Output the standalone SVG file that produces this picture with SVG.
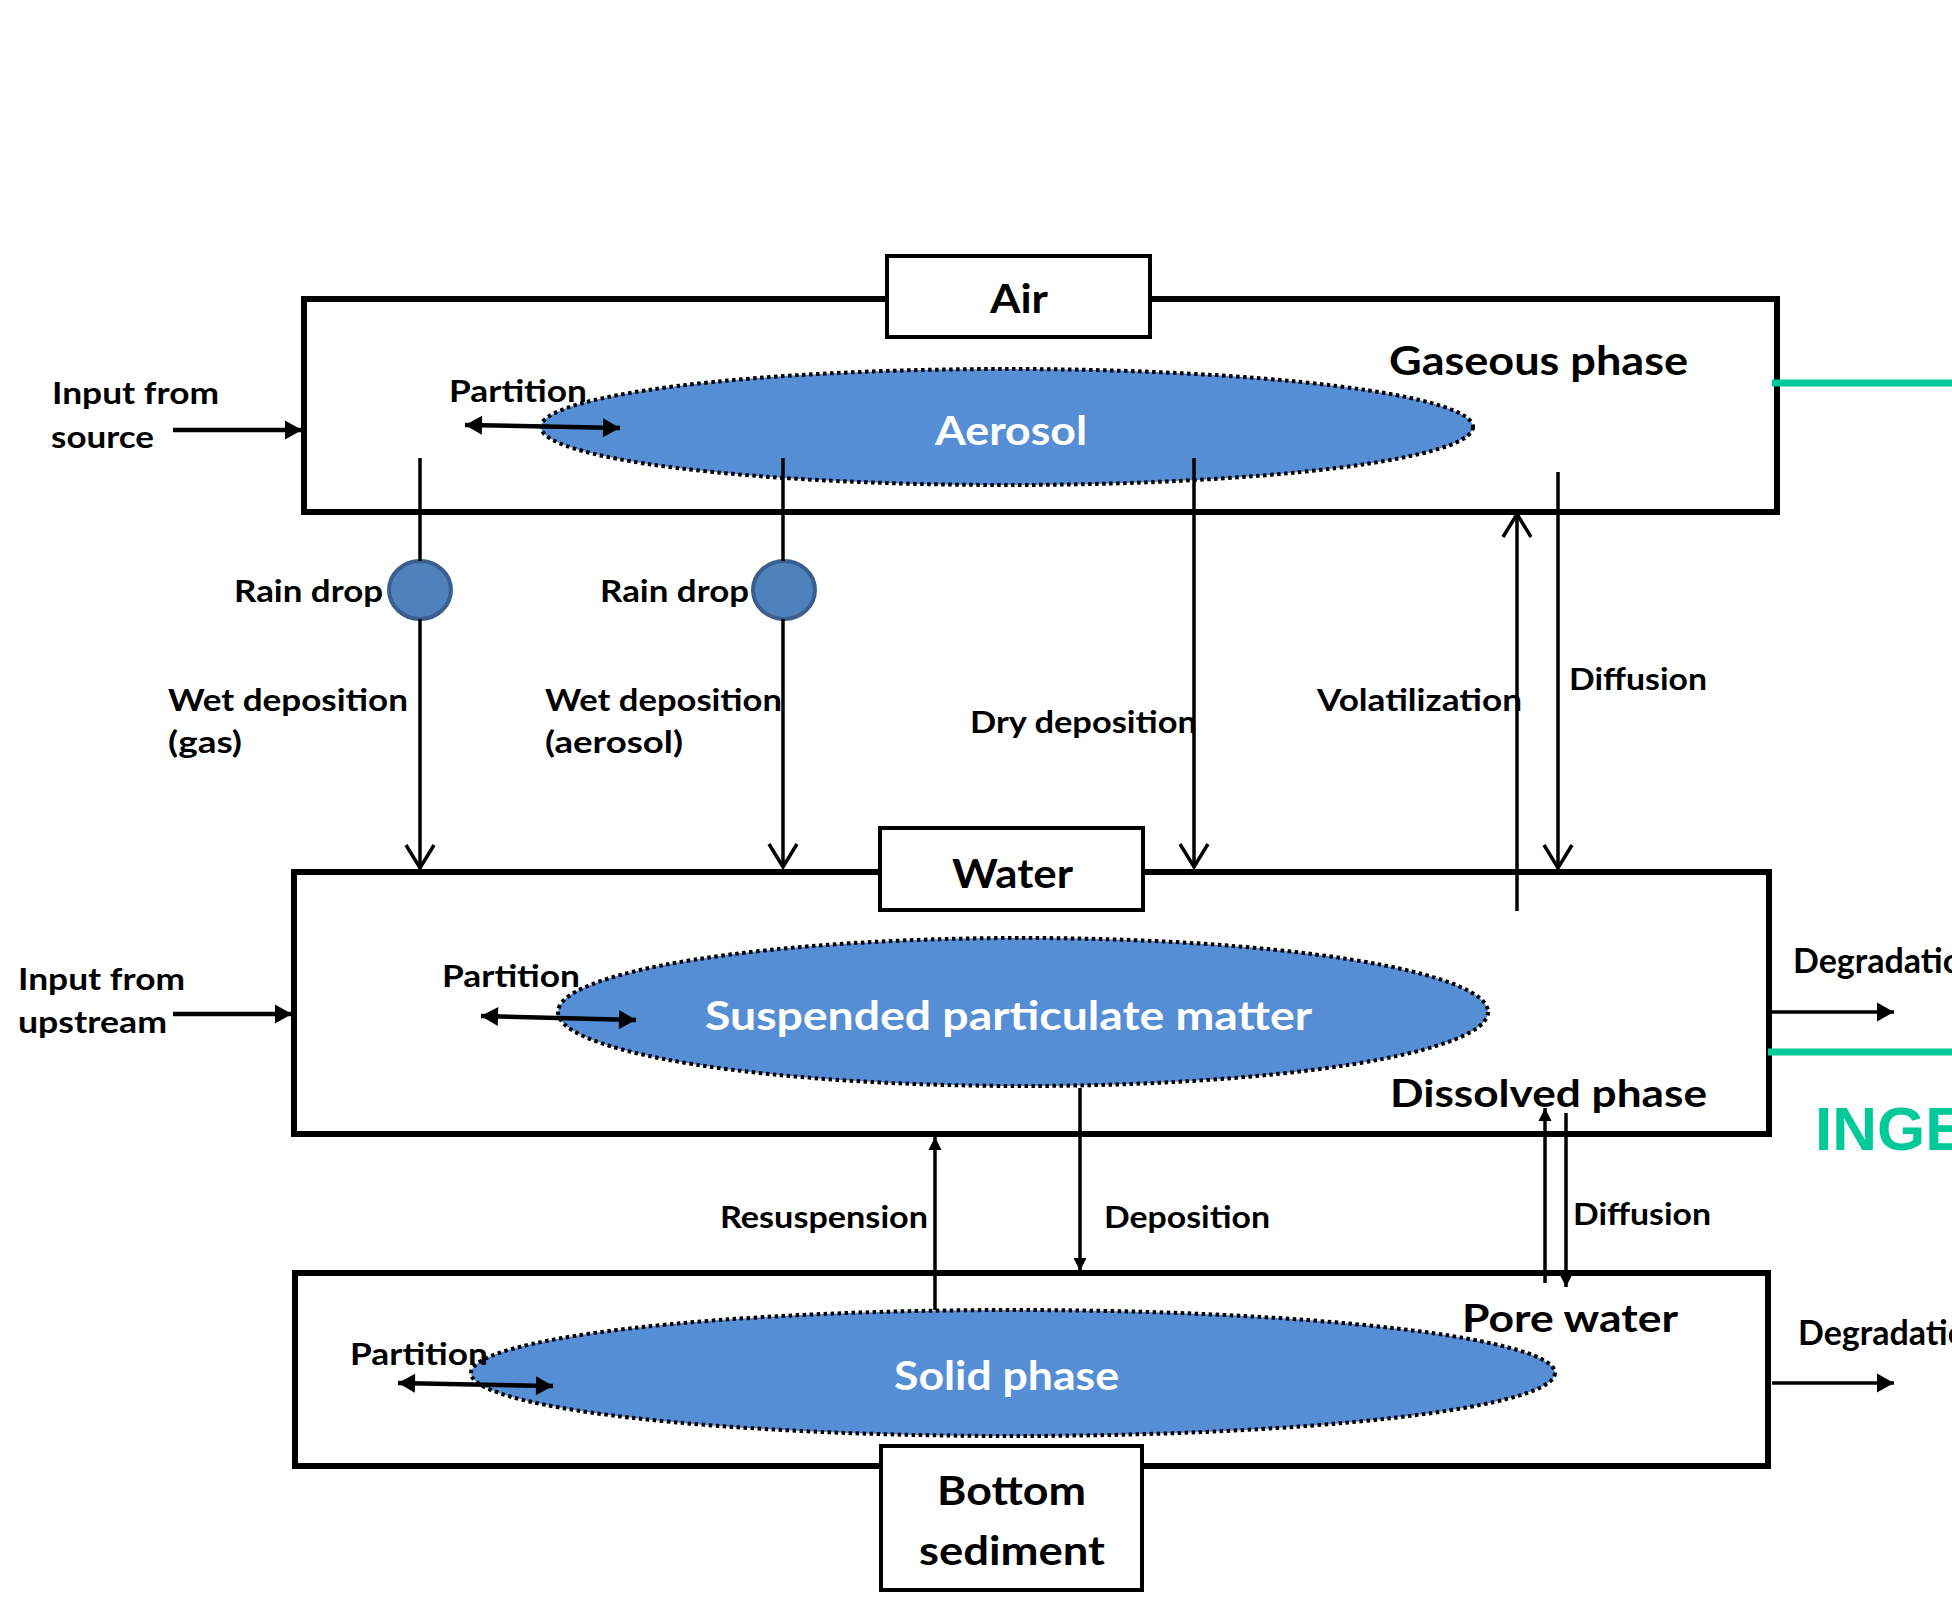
<svg xmlns="http://www.w3.org/2000/svg" width="1952" height="1602" viewBox="0 0 1952 1602">
<style>
.bg{fill:#ffffff}
.box{fill:#ffffff;stroke:#000;stroke-width:6}
.lbox{fill:#ffffff;stroke:#000;stroke-width:4}
.ell{fill:#558ED5;stroke:#000;stroke-width:4;stroke-dasharray:3.5 3.5}
.drop{fill:#4F81BD;stroke:#3A5F8F;stroke-width:4}
.ln{stroke:#000;stroke-width:3.5;fill:none}
.bold{stroke:#000;stroke-width:4.5;fill:none}
.teal{stroke:#00C99A;stroke-width:7}
text{font-family:Lato,"Liberation Sans",sans-serif;font-weight:bold;fill:#000}
.s{font-size:31px}
.dg{font-size:34px}
.m{font-size:38px}
.l{font-size:41px}
.w{fill:#ffffff}
.inge{font-family:"Liberation Sans",Arial,sans-serif;font-size:62px;fill:#00C99A}
</style>
<defs>
<marker id="open" markerUnits="userSpaceOnUse" markerWidth="30" markerHeight="32" refX="24" refY="15" orient="auto" overflow="visible">
<path d="M1,1 L24,15 L1,29" fill="none" stroke="#000" stroke-width="3.5"/>
</marker>
<marker id="fill" markerUnits="userSpaceOnUse" markerWidth="18" markerHeight="20" refX="17" refY="9.5" orient="auto-start-reverse" overflow="visible">
<path d="M0,0 L17,9.5 L0,19 z" fill="#000"/>
</marker>
<marker id="fills" markerUnits="userSpaceOnUse" markerWidth="14" markerHeight="14" refX="13" refY="6.5" orient="auto" overflow="visible">
<path d="M0,0 L13,6.5 L0,13 z" fill="#000"/>
</marker>
</defs>
<rect class="bg" x="0" y="0" width="1952" height="1602"/>

<g id="air">
<rect class="box" x="304" y="299" width="1473" height="213"/>
<rect class="lbox" x="887" y="256" width="263" height="81"/>
<text class="l" x="990" y="313" textLength="58" lengthAdjust="spacingAndGlyphs">Air</text>
<text class="l" x="1389" y="375" textLength="299" lengthAdjust="spacingAndGlyphs">Gaseous  phase</text>
</g>
<g id="aerosol">
<ellipse class="ell" cx="1007" cy="427" rx="466" ry="58"/>
<text class="l w" x="935" y="445" textLength="152" lengthAdjust="spacingAndGlyphs">Aerosol</text>
</g>

<g id="water">
<rect class="box" x="294" y="872" width="1475" height="262"/>
<rect class="lbox" x="880" y="828" width="263" height="82"/>
<text class="l" x="952" y="888" textLength="121" lengthAdjust="spacingAndGlyphs">Water</text>
<text class="m" x="1390" y="1107" textLength="317" lengthAdjust="spacingAndGlyphs">Dissolved phase</text>
</g>
<g id="spm">
<ellipse class="ell" cx="1023" cy="1012" rx="465" ry="74"/>
<text class="l w" x="705" y="1030" textLength="607" lengthAdjust="spacingAndGlyphs">Suspended particulate  matter</text>
</g>

<g id="sediment">
<rect class="box" x="295" y="1273" width="1473" height="193"/>
<text class="m" x="1462" y="1332" textLength="216" lengthAdjust="spacingAndGlyphs">Pore water</text>
</g>
<g id="solid">
<ellipse class="ell" cx="1013" cy="1373" rx="542" ry="63"/>
<text class="l w" x="894" y="1390" textLength="225" lengthAdjust="spacingAndGlyphs">Solid phase</text>
</g>
<g id="bottom-label">
<rect class="lbox" x="881" y="1446" width="261" height="144"/>
<text class="l" x="937" y="1505" textLength="149" lengthAdjust="spacingAndGlyphs">Bottom</text>
<text class="l" x="919" y="1565" textLength="186" lengthAdjust="spacingAndGlyphs">sediment</text>
</g>

<g id="raindrop1"><ellipse class="drop" cx="420" cy="590" rx="31" ry="29"/></g>
<g id="raindrop2"><ellipse class="drop" cx="784" cy="590" rx="31" ry="29"/></g>

<g id="connectors">
<line class="bold" x1="173" y1="430" x2="302" y2="430" marker-end="url(#fill)"/>
<line class="bold" x1="173" y1="1014" x2="292" y2="1014" marker-end="url(#fill)"/>
<line class="bold" x1="465" y1="425" x2="620" y2="428" marker-start="url(#fill)" marker-end="url(#fill)"/>
<line class="bold" x1="481" y1="1016" x2="636" y2="1020" marker-start="url(#fill)" marker-end="url(#fill)"/>
<line class="bold" x1="398" y1="1383" x2="553" y2="1386" marker-start="url(#fill)" marker-end="url(#fill)"/>
<line class="ln" x1="1772" y1="1012" x2="1894" y2="1012" marker-end="url(#fill)"/>
<line class="ln" x1="1772" y1="1383" x2="1894" y2="1383" marker-end="url(#fill)"/>
<line class="ln" x1="420" y1="458" x2="420" y2="561"/>
<line class="ln" x1="420" y1="619" x2="420" y2="868" marker-end="url(#open)"/>
<line class="ln" x1="783" y1="458" x2="783" y2="561"/>
<line class="ln" x1="783" y1="619" x2="783" y2="867" marker-end="url(#open)"/>
<line class="ln" x1="1194" y1="458" x2="1194" y2="867" marker-end="url(#open)"/>
<line class="ln" x1="1517" y1="911" x2="1517" y2="514" marker-end="url(#open)"/>
<line class="ln" x1="1558" y1="472" x2="1558" y2="868" marker-end="url(#open)"/>
<line class="ln" x1="935" y1="1310" x2="935" y2="1137" marker-end="url(#fills)"/>
<line class="ln" x1="1080" y1="1088" x2="1080" y2="1271" marker-end="url(#fills)"/>
<line class="ln" x1="1545" y1="1283" x2="1545" y2="1108" marker-end="url(#fills)"/>
<line class="ln" x1="1566" y1="1113" x2="1566" y2="1287" marker-end="url(#fills)"/>
</g>

<g id="labels">
<text class="s" x="52" y="404" textLength="167" lengthAdjust="spacingAndGlyphs">Input from</text>
<text class="s" x="51" y="448" textLength="103" lengthAdjust="spacingAndGlyphs">source</text>
<text class="s" x="449" y="402" textLength="138" lengthAdjust="spacingAndGlyphs">Partition</text>
<text class="s" x="234" y="602" textLength="149" lengthAdjust="spacingAndGlyphs">Rain drop</text>
<text class="s" x="600" y="602" textLength="149" lengthAdjust="spacingAndGlyphs">Rain drop</text>
<text class="s" x="168" y="711" textLength="240" lengthAdjust="spacingAndGlyphs">Wet deposition</text>
<text class="s" x="168" y="753" textLength="74" lengthAdjust="spacingAndGlyphs">(gas)</text>
<text class="s" x="545" y="711" textLength="237" lengthAdjust="spacingAndGlyphs">Wet deposition</text>
<text class="s" x="545" y="753" textLength="138" lengthAdjust="spacingAndGlyphs">(aerosol)</text>
<text class="s" x="970" y="733" textLength="227" lengthAdjust="spacingAndGlyphs">Dry deposition</text>
<text class="s" x="1317" y="711" textLength="205" lengthAdjust="spacingAndGlyphs">Volatilization</text>
<text class="s" x="1569" y="690" textLength="138" lengthAdjust="spacingAndGlyphs">Diffusion</text>
<text class="s" x="18" y="990" textLength="167" lengthAdjust="spacingAndGlyphs">Input from</text>
<text class="s" x="18" y="1033" textLength="149" lengthAdjust="spacingAndGlyphs">upstream</text>
<text class="s" x="442" y="987" textLength="138" lengthAdjust="spacingAndGlyphs">Partition</text>
<text class="dg" x="1793" y="973">Degradation</text>
<text class="s" x="720" y="1228" textLength="208" lengthAdjust="spacingAndGlyphs">Resuspension</text>
<text class="s" x="1104" y="1228" textLength="166" lengthAdjust="spacingAndGlyphs">Deposition</text>
<text class="s" x="1573" y="1225" textLength="138" lengthAdjust="spacingAndGlyphs">Diffusion</text>
<text class="s" x="350" y="1365" textLength="138" lengthAdjust="spacingAndGlyphs">Partition</text>
<text class="dg" x="1798" y="1345">Degradation</text>
</g>

<g id="overlay">
<line class="teal" x1="1772" y1="383" x2="1952" y2="383"/>
<line class="teal" x1="1768" y1="1052" x2="1952" y2="1052"/>
<text class="inge" x="1815" y="1150">INGE</text>
</g>
</svg>
